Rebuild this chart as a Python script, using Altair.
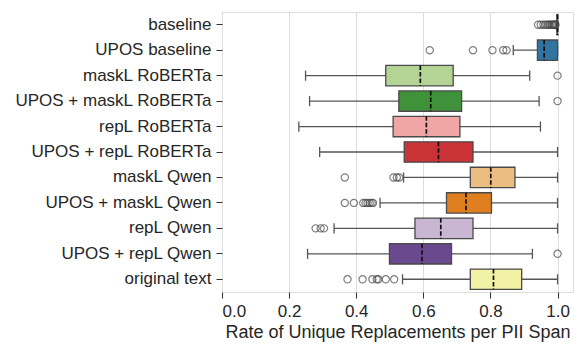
import colorsys
import altair as alt
import pandas as pd

categories = ["baseline", "UPOS baseline", "maskL RoBERTa", "UPOS + maskL RoBERTa",
              "repL RoBERTa", "UPOS + repL RoBERTa", "maskL Qwen", "UPOS + maskL Qwen",
              "repL Qwen", "UPOS + repL Qwen", "original text"]
whisker_low = [0.996, 0.868, 0.249, 0.261, 0.229, 0.291, 0.541, 0.471, 0.334, 0.255, 0.538]
q1 = [0.998, 0.940, 0.488, 0.527, 0.510, 0.543, 0.740, 0.669, 0.575, 0.499, 0.740]
median = [1.000, 0.960, 0.591, 0.622, 0.609, 0.645, 0.801, 0.727, 0.652, 0.596, 0.809]
q3 = [1.000, 1.000, 0.689, 0.714, 0.709, 0.748, 0.873, 0.803, 0.748, 0.684, 0.893]
whisker_high = [1.000, 1.000, 0.917, 0.945, 0.949, 1.000, 1.000, 1.000, 1.000, 0.925, 1.000]
outliers = [
    [0.942, 0.950, 0.958, 0.964, 0.970, 0.974, 0.978, 0.982, 0.985, 0.988, 0.990, 0.992, 0.994],
    [0.619, 0.748, 0.806, 0.838, 0.848],
    [1.000],
    [1.000],
    [],
    [],
    [0.366, 0.511, 0.521, 0.528],
    [0.366, 0.393, 0.421, 0.428, 0.434, 0.440, 0.446, 0.450],
    [0.279, 0.294, 0.304],
    [1.000],
    [0.374, 0.419, 0.448, 0.461, 0.466, 0.488, 0.513],
]
paired = ["#a6cee3", "#1f78b4", "#b2df8a", "#33a02c", "#fb9a99", "#e31a1c",
          "#fdbf6f", "#ff7f00", "#cab2d6", "#6a3d9a", "#ffff99"]


def desat(hexc, prop=0.75):
    r, g, b = (int(hexc[i:i + 2], 16) / 255 for i in (1, 3, 5))
    h, l, s = colorsys.rgb_to_hls(r, g, b)
    r, g, b = colorsys.hls_to_rgb(h, l, s * prop)
    return "#%02x%02x%02x" % (round(r * 255), round(g * 255), round(b * 255))


colors = [desat(c) for c in paired]

stats = pd.DataFrame({"cat": categories, "lo": whisker_low, "q1": q1, "med": median,
                      "q3": q3, "hi": whisker_high})
out_df = pd.DataFrame([{"cat": c, "v": v} for c, vs in zip(categories, outliers) for v in vs])

FONT = "Liberation Sans"
xscale = alt.Scale(domain=[0, 1.046], nice=False, zero=False)
yscale = alt.Scale(domain=categories, paddingInner=0.2, paddingOuter=0.1)
xaxis = alt.Axis(values=[0, 0.2, 0.4, 0.6, 0.8, 1.0], format=".1f",
                 title="Rate of Unique Replacements per PII Span",
                 labelFontSize=17, titleFontSize=18, titleFontWeight="normal",
                 labelColor="#262626", titleColor="#262626", tickSize=6,
                 tickColor="#333333", domain=False, gridColor="#dddddd",
                 labelPadding=5, titlePadding=4, labelFont=FONT, titleFont=FONT,
                 titleLimit=600)
yaxis = alt.Axis(title=None, labelFontSize=17, labelColor="#262626", tickSize=6,
                 tickColor="#333333", domain=False, gridColor="#dddddd",
                 labelPadding=5, labelFont=FONT, bandPosition=0.5, labelLimit=400)

base = alt.Chart(stats)
Y = alt.Y("cat:N", scale=yscale, axis=yaxis, sort=categories)

whisk = base.mark_rule(color="#555555", strokeWidth=1.3).encode(
    x=alt.X("lo:Q", scale=xscale, axis=xaxis), x2="hi:Q", y=Y)
caps_lo = base.mark_rule(color="#555555", strokeWidth=1.3).encode(
    x="lo:Q",
    y=alt.Y("cat:N", bandPosition=0.25, sort=categories),
    y2=alt.Y2("cat:N", bandPosition=0.75))
caps_hi = base.mark_rule(color="#555555", strokeWidth=1.3).encode(
    x="hi:Q",
    y=alt.Y("cat:N", bandPosition=0.25, sort=categories),
    y2=alt.Y2("cat:N", bandPosition=0.75))
box = base.mark_bar(stroke="#4a4a4a", strokeWidth=1.3).encode(
    x="q1:Q", x2="q3:Q", y=Y,
    color=alt.Color("cat:N", scale=alt.Scale(domain=categories, range=colors), legend=None))
med = base.mark_rule(color="#111111", strokeWidth=1.7, strokeDash=[4.5, 2]).encode(
    x="med:Q",
    y=alt.Y("cat:N", bandPosition=0, sort=categories),
    y2=alt.Y2("cat:N", bandPosition=1))
pts = alt.Chart(out_df).mark_point(filled=False, color="#4a4a4a", size=52, strokeWidth=1.2).encode(
    x="v:Q", y=alt.Y("cat:N", sort=categories))

chart = alt.layer(whisk, caps_lo, caps_hi, box, med, pts).properties(
    width=351, height=280,
    autosize=alt.AutoSizeParams(type="none"),
    padding={"left": 214, "top": 4, "right": 1, "bottom": 50},
).configure_view(stroke="#333333", strokeWidth=1.6).configure(font=FONT)

chart.save("out.html", embed_options={"renderer": "svg", "actions": False})
